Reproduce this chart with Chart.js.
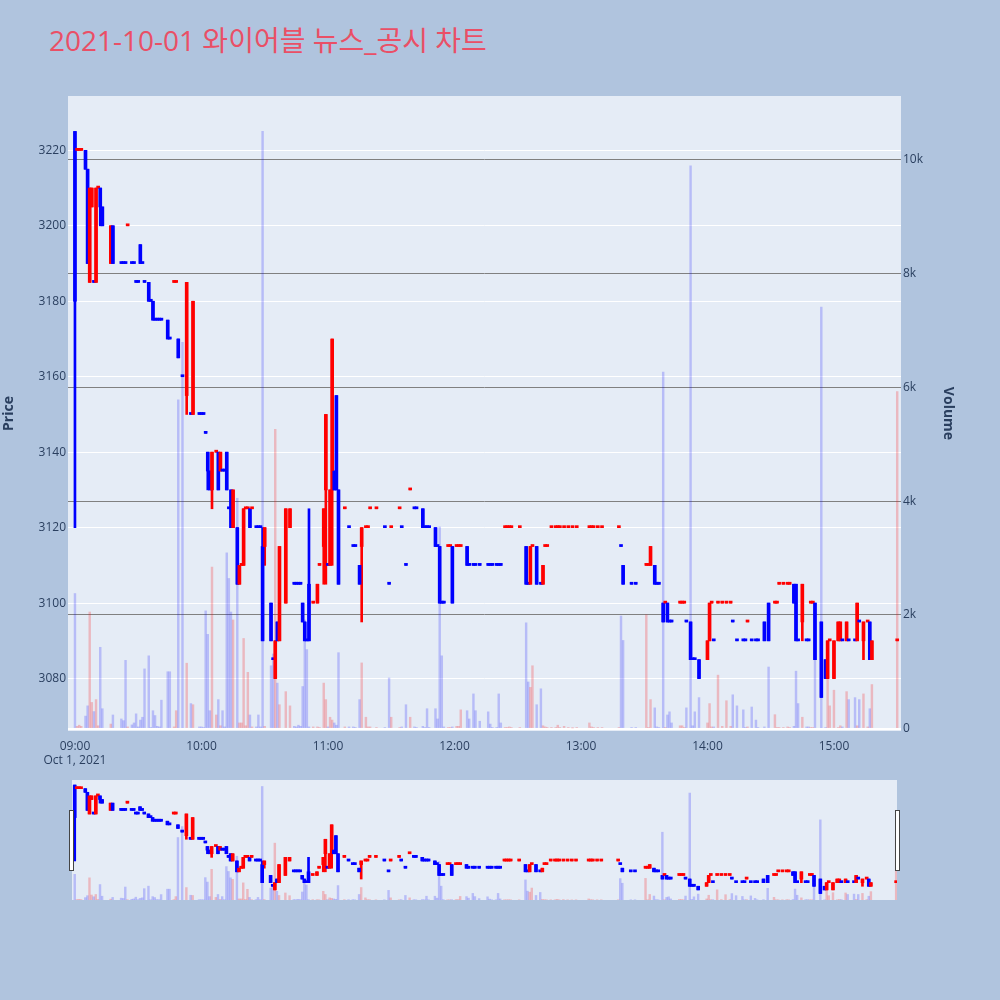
<!DOCTYPE html>
<html>
<head>
<meta charset="utf-8">
<script src="https://cdn.jsdelivr.net/npm/chart.js@4.4.0/dist/chart.umd.min.js"></script>
<style>
html,body{margin:0;padding:0;background:#b0c4de;width:1000px;height:1000px;overflow:hidden;}
#title{position:absolute;left:49px;top:26px;font-family:"Open Sans","Noto Sans CJK KR",sans-serif;font-size:28px;line-height:28px;color:#ea4f66;white-space:nowrap;}
#main{position:absolute;left:0;top:0;}
#slider{position:absolute;left:0;top:770px;}
.handle{position:absolute;width:3px;height:59px;background:#fff;border:1px solid #444;}
</style>
</head>
<body>
<div id="title">2021-10-01 와이어블 뉴스_공시 차트</div>
<canvas id="main" width="1000" height="770"></canvas>
<canvas id="slider" width="1000" height="140"></canvas>
<div class="handle" style="left:69px;top:810px"></div>
<div class="handle" style="left:895px;top:810px"></div>
<script>
// minutes after 09:00
const minute = [0,1,2,3,5,6,7,8,9,10,11,12,13,17,18,22,23,24,25,27,28,29,30,31,32,33,35,36,37,38,39,40,41,44,45,47,48,49,51,53,55,56,59,60,61,62,63,64,65,67,68,69,70,71,72,73,74,75,77,78,79,80,81,82,83,84,86,87,88,89,90,93,94,95,96,97,100,102,104,105,106,107,108,109,110,111,113,115,116,118,119,120,121,122,123,124,125,128,130,132,133,135,136,138,139,140,143,147,149,150,154,155,157,159,161,162,165,166,167,168,171,172,173,174,175,177,178,179,181,182,183,186,187,189,190,192,196,197,198,200,201,202,204,205,206,207,211,214,215,216,217,219,221,222,223,224,226,228,229,230,232,234,236,238,244,245,246,248,250,258,259,260,264,266,271,272,273,275,276,277,279,280,281,282,283,287,288,289,290,292,293,294,296,300,301,302,303,305,307,309,311,312,314,317,318,319,321,323,324,327,329,332,333,334,336,338,339,341,342,343,345,347,348,349,350,351,354,356,357,358,360,362,363,364,366,367,370,371,372,374,376,377,378,390];
const open = [3225,3220,3220,3220,3220,3215,3185,3205,3185,3185,3210,3210,3205,3190,3200,3190,3190,3190,3200,3190,3190,3185,3185,3195,3190,3185,3185,3180,3180,3175,3175,3175,3175,3175,3170,3185,3185,3170,3160,3155,3150,3150,3150,3150,3150,3145,3140,3135,3130,3140,3140,3135,3135,3135,3140,3125,3130,3120,3120,3105,3110,3110,3125,3125,3125,3125,3120,3120,3120,3115,3115,3100,3085,3080,3095,3090,3100,3120,3105,3105,3105,3105,3100,3095,3090,3105,3100,3100,3110,3115,3130,3110,3110,3130,3135,3155,3130,3125,3120,3115,3115,3110,3115,3120,3120,3125,3125,3120,3105,3120,3125,3120,3110,3130,3125,3125,3125,3120,3120,3120,3120,3115,3115,3100,3100,3115,3115,3115,3115,3115,3115,3115,3110,3110,3110,3110,3110,3110,3110,3110,3110,3110,3120,3120,3120,3120,3120,3115,3105,3105,3115,3115,3105,3105,3115,3115,3120,3120,3120,3120,3120,3120,3120,3120,3120,3120,3120,3120,3120,3120,3115,3110,3105,3105,3110,3110,3110,3110,3105,3105,3100,3100,3100,3095,3095,3100,3100,3100,3095,3095,3085,3085,3085,3085,3090,3100,3090,3100,3100,3100,3100,3095,3090,3090,3090,3095,3090,3090,3090,3095,3100,3100,3100,3105,3105,3105,3105,3105,3105,3090,3095,3090,3090,3100,3100,3100,3095,3085,3080,3090,3080,3090,3090,3090,3090,3090,3090,3090,3095,3090,3095,3095,3085,3090];
const high = [3225,3220,3220,3220,3220,3215,3210,3210,3185,3210,3210,3210,3205,3200,3200,3190,3190,3190,3200,3190,3190,3185,3185,3195,3190,3185,3185,3180,3180,3175,3175,3175,3175,3175,3170,3185,3185,3170,3160,3185,3150,3180,3150,3150,3150,3145,3140,3135,3140,3140,3140,3140,3135,3135,3140,3125,3130,3130,3120,3110,3110,3125,3125,3125,3125,3125,3120,3120,3120,3120,3120,3100,3085,3090,3095,3115,3125,3125,3105,3105,3105,3105,3100,3095,3090,3125,3100,3105,3110,3125,3150,3110,3130,3170,3135,3155,3130,3125,3120,3115,3115,3110,3120,3120,3120,3125,3125,3120,3105,3120,3125,3120,3110,3130,3125,3125,3125,3120,3120,3120,3120,3115,3115,3100,3100,3115,3115,3115,3115,3115,3115,3115,3110,3110,3110,3110,3110,3110,3110,3110,3110,3110,3120,3120,3120,3120,3120,3115,3105,3115,3115,3115,3105,3110,3115,3115,3120,3120,3120,3120,3120,3120,3120,3120,3120,3120,3120,3120,3120,3120,3115,3110,3105,3105,3110,3110,3115,3110,3105,3105,3100,3100,3100,3095,3095,3100,3100,3100,3095,3095,3085,3085,3085,3090,3100,3100,3090,3100,3100,3100,3100,3095,3090,3090,3090,3095,3090,3090,3090,3095,3100,3100,3100,3105,3105,3105,3105,3105,3105,3090,3105,3090,3090,3100,3100,3100,3095,3085,3090,3090,3090,3095,3095,3090,3095,3090,3090,3100,3095,3095,3095,3095,3090,3090];
const low = [3120,3220,3220,3220,3215,3190,3185,3205,3185,3185,3210,3200,3200,3190,3190,3190,3190,3190,3200,3190,3190,3185,3185,3190,3190,3185,3180,3180,3175,3175,3175,3175,3175,3170,3170,3185,3185,3165,3160,3150,3150,3150,3150,3150,3150,3145,3130,3130,3125,3140,3130,3135,3135,3135,3130,3125,3120,3120,3105,3105,3110,3110,3125,3125,3120,3125,3120,3120,3120,3090,3110,3090,3085,3080,3090,3090,3100,3120,3105,3105,3105,3105,3095,3090,3090,3090,3100,3100,3110,3105,3105,3110,3110,3110,3130,3130,3105,3125,3120,3115,3115,3105,3095,3120,3120,3125,3125,3120,3105,3120,3125,3120,3110,3130,3125,3125,3120,3120,3120,3120,3115,3115,3100,3100,3100,3115,3115,3100,3115,3115,3115,3110,3110,3110,3110,3110,3110,3110,3110,3110,3110,3110,3120,3120,3120,3120,3120,3105,3105,3105,3115,3105,3105,3105,3115,3115,3120,3120,3120,3120,3120,3120,3120,3120,3120,3120,3120,3120,3120,3120,3115,3105,3105,3105,3110,3110,3110,3105,3105,3105,3095,3100,3095,3095,3095,3100,3100,3100,3095,3085,3085,3085,3080,3085,3090,3100,3090,3100,3100,3100,3100,3095,3090,3090,3090,3095,3090,3090,3090,3090,3090,3100,3100,3105,3105,3105,3105,3100,3090,3090,3090,3090,3090,3100,3100,3085,3075,3080,3080,3090,3080,3090,3090,3090,3090,3090,3090,3090,3095,3085,3095,3085,3085,3090];
const close = [3180,3220,3220,3220,3215,3190,3210,3210,3185,3210,3210,3205,3200,3200,3190,3190,3190,3190,3200,3190,3190,3185,3185,3190,3190,3185,3180,3180,3175,3175,3175,3175,3175,3170,3170,3185,3185,3165,3160,3185,3150,3180,3150,3150,3150,3145,3135,3130,3140,3140,3130,3140,3135,3135,3130,3125,3120,3130,3105,3110,3110,3125,3125,3125,3120,3125,3120,3120,3120,3090,3120,3090,3085,3090,3090,3115,3125,3125,3105,3105,3105,3105,3095,3090,3090,3090,3100,3105,3110,3125,3150,3110,3130,3170,3130,3130,3105,3125,3120,3115,3115,3105,3120,3120,3120,3125,3125,3120,3105,3120,3125,3120,3110,3130,3125,3125,3120,3120,3120,3120,3115,3115,3100,3100,3100,3115,3115,3100,3115,3115,3115,3110,3110,3110,3110,3110,3110,3110,3110,3110,3110,3110,3120,3120,3120,3120,3120,3105,3105,3115,3115,3105,3105,3110,3115,3115,3120,3120,3120,3120,3120,3120,3120,3120,3120,3120,3120,3120,3120,3120,3115,3105,3105,3105,3110,3110,3115,3105,3105,3105,3095,3100,3095,3095,3095,3100,3100,3100,3095,3085,3085,3085,3080,3090,3100,3100,3090,3100,3100,3100,3100,3095,3090,3090,3090,3095,3090,3090,3090,3090,3090,3100,3100,3105,3105,3105,3105,3100,3090,3090,3105,3090,3090,3100,3100,3085,3075,3080,3090,3090,3090,3095,3095,3090,3095,3090,3090,3100,3095,3095,3095,3085,3090,3090];
const volume = [2375,40,60,40,220,400,2050,460,300,510,50,1430,350,80,240,170,140,1200,30,65,100,260,30,150,200,1050,1280,20,315,230,40,30,500,1000,1000,30,315,5780,6790,1150,440,420,30,30,20,2070,1657,315,2840,240,510,50,315,30,3090,2640,2050,1910,4050,100,100,1585,50,990,240,30,30,240,30,10500,40,1105,1313,5260,800,420,650,400,40,30,60,40,740,1910,1390,30,30,30,20,800,510,30,200,150,100,60,1335,30,30,30,20,510,1155,200,30,30,20,20,890,200,20,30,420,200,30,20,40,20,350,20,350,170,3545,1280,30,20,20,30,40,40,330,315,170,610,315,130,295,80,20,20,610,100,20,20,30,20,20,1860,820,725,1105,420,700,50,30,20,20,20,60,20,40,20,10,20,100,30,20,20,20,20,1980,1550,20,20,2000,20,510,365,30,20,6270,20,240,295,100,50,50,20,365,9894,50,295,545,100,440,30,30,940,40,490,40,595,400,330,20,30,380,150,20,30,1083,245,20,20,20,30,20,40,1010,440,200,30,30,20,20,1550,7412,20,1083,400,675,20,50,30,650,510,545,50,510,610,30,350,775,5927];

const priceTicks = [3080,3100,3120,3140,3160,3180,3200,3220];
const volumeTicks = [0,2000,4000,6000,8000,10000];
const hourTicks = [0,60,120,180,240,300,360];
const hourLabels = ['09:00','10:00','11:00','12:00','13:00','14:00','15:00'];
const dateLabel = 'Oct 1, 2021';

// plotly-like direction (doji keeps direction relative to previous close)
const up = [];
(function(){
  let inc = true, prevC = null;
  for (let i = 0; i < minute.length; i++) {
    const o = open[i], c = close[i];
    if (c === o) { if (prevC !== null && c !== prevC) inc = c > prevC; }
    else inc = c > o;
    up.push(inc); prevC = c;
  }
})();

const FONT = '"Open Sans", "Noto Sans", sans-serif';
const TXT = '#2a3f5f';

function makeDatasets(){
  const lineCol = up.map(u => u ? '#ff0000' : '#0000ff');
  const volCol = up.map(u => u ? 'rgba(255,0,0,0.22)' : 'rgba(0,0,255,0.2)');
  return [
    {type:'bar', yAxisID:'y1', data: minute.map((m,i)=>({x:m, y:volume[i]})),
     backgroundColor: volCol, barThickness:1.8, grouped:false, order:3},
    {type:'bar', yAxisID:'y', data: minute.map((m,i)=>({x:m, y:[low[i], high[i]]})),
     backgroundColor: lineCol, barThickness:2, grouped:false, order:2},
    {type:'bar', yAxisID:'y', data: minute.map((m,i)=>({x:m, y:[open[i], close[i]]})),
     backgroundColor: lineCol, barThickness:3, minBarLength:2, grouped:false, order:1}
  ];
}

const bgPlugin = {
  id:'plotbg',
  beforeDraw(chart){
    const a = chart.chartArea, c = chart.ctx;
    c.save(); c.fillStyle = '#e5ecf6';
    c.fillRect(a.left, a.top, a.right - a.left, a.bottom - a.top);
    c.restore();
  }
};

new Chart(document.getElementById('main'), {
  type:'bar',
  data:{datasets: makeDatasets()},
  options:{
    responsive:false, animation:false, events:[],
    layout:{padding:{left:0, right:42, top:96, bottom:0}},
    plugins:{legend:{display:false}, tooltip:{enabled:false}},
    scales:{
      x:{type:'linear', min:-3.3, max:391.8, offset:false,
         grid:{display:false}, border:{display:false},
         afterBuildTicks(s){ s.ticks = hourTicks.map(v=>({value:v})); },
         afterFit(s){ s.height = 39; },
         ticks:{autoSkip:false, maxRotation:0, padding:0, color:TXT,
                font:{family:FONT, size:12, lineHeight:1.2},
                callback(v){ const i = hourTicks.indexOf(v); return i === 0 ? [hourLabels[0], dateLabel] : hourLabels[i]; }}},
      y:{type:'linear', position:'left', min:3066.1, max:3234.4,
         grid:{color:'#ffffff', lineWidth:1, drawTicks:false}, border:{display:false},
         afterBuildTicks(s){ s.ticks = priceTicks.map(v=>({value:v})); },
         afterFit(s){ s.width = 68; },
         ticks:{padding:2, color:TXT, font:{family:FONT, size:12},
                callback(v){ return String(v); }},
         title:{display:true, text:'Price', color:TXT, padding:{top:1,bottom:0}, font:{family:FONT, size:14, weight:'bold'}}},
      y1:{type:'linear', position:'right', min:-42, max:11122,
         grid:{drawTicks:false,
               color(ctx){ return ctx.tick && ctx.tick.value === 0 ? '#ffffff' : '#808080'; },
               lineWidth(ctx){ return ctx.tick && ctx.tick.value === 0 ? 2 : 1; }},
         border:{display:false},
         afterBuildTicks(s){ s.ticks = volumeTicks.map(v=>({value:v})); },
         afterFit(s){ s.width = 57; },
         ticks:{padding:2, color:TXT, font:{family:FONT, size:12},
                callback(v){ return v === 0 ? '0' : (v/1000) + 'k'; }},
         title:{display:true, text:'Volume', color:TXT, padding:{top:2,bottom:0}, font:{family:FONT, size:14, weight:'bold'}}}
    }
  },
  plugins:[bgPlugin]
});

new Chart(document.getElementById('slider'), {
  type:'bar',
  data:{datasets: makeDatasets()},
  options:{
    responsive:false, animation:false, events:[],
    layout:{padding:{left:72, right:103, top:10, bottom:10}},
    plugins:{legend:{display:false}, tooltip:{enabled:false}},
    scales:{
      x:{type:'linear', min:-1.3, max:390.4, offset:false, display:false},
      y:{type:'linear', min:3066, max:3232, display:false},
      y1:{type:'linear', min:0, max:11100, display:false}
    }
  },
  plugins:[bgPlugin]
});
</script>
</body>
</html>
